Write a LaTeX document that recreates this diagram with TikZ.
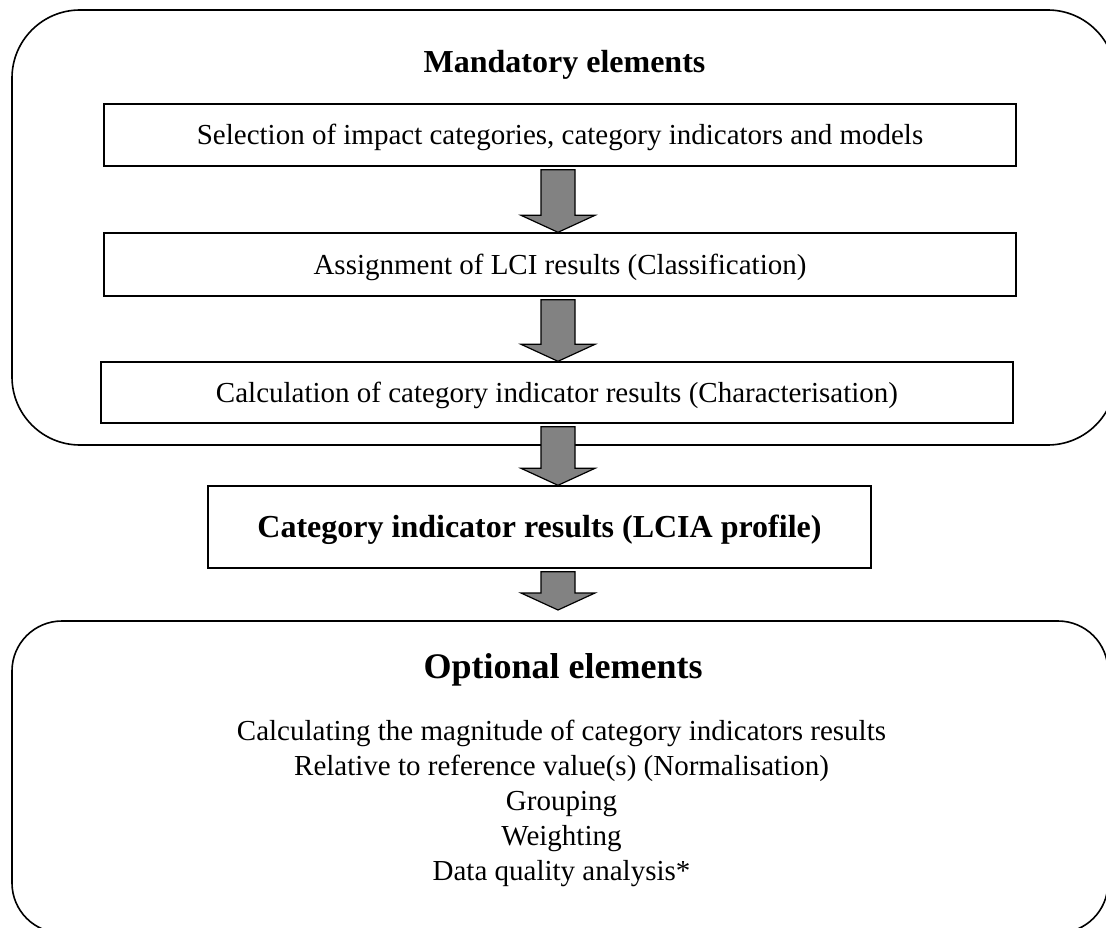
\documentclass[tikz,border=0pt]{standalone}
\usepackage{fontspec}
\setmainfont{Liberation Serif}
\usetikzlibrary{calc}
\definecolor{arrowgray}{RGB}{130,130,130}
\begin{document}
\begin{tikzpicture}[x=1pt,y=-1pt,
  framebox/.style={draw, line width=1.6pt, inner sep=0pt, rounded corners=#1},
  stepbox/.style={draw, line width=1.4pt, inner sep=0pt, align=center,
    font=\fontsize{29}{35}\selectfont, text height=19pt, text depth=0pt},
  headline/.style={anchor=base, font=\bfseries\fontsize{#1}{#1}\selectfont},
  bodyline/.style={anchor=base, font=\fontsize{29}{35}\selectfont},
  fatarrow/.style={draw=black, line width=1.2pt, fill=arrowgray},
]
% page area
\useasboundingbox (0,0) rectangle (1106,928);
\clip (0,0) rectangle (1106,928);

% outer frames
\node[framebox=68pt, minimum width=1103.7pt, minimum height=435pt] (mand) at (563.85,227.5) {};
\node[framebox=50pt, minimum width=1096pt, minimum height=312pt] (opt) at (560,777) {};

% mandatory part
\node[headline=32] (mtitle) at (564.5,73) {Mandatory elements};
\node[stepbox, minimum width=912pt, minimum height=62pt] (sel) at (560,135)
  {Selection of impact categories, category indicators and models};
\node[stepbox, minimum width=912pt, minimum height=63pt] (cls) at (560,264.5)
  {Assignment of LCI results (Classification)};
\node[stepbox, minimum width=912pt, minimum height=61pt] (chr) at (557,392.5)
  {Calculation of category indicator results (Characterisation)};

% profile
\node[stepbox, minimum width=663pt, minimum height=82pt, text height=21pt,
  font=\bfseries\fontsize{32}{38}\selectfont] (prof) at (539.5,527)
  {Category indicator results (LCIA profile)};

% optional part
\node[headline=36] (otitle) at (563,678) {Optional elements};
\node[bodyline] (o1) at (561.5,740) {Calculating the magnitude of category indicators results};
\node[bodyline] (o2) at (561.5,775) {Relative to reference value(s) (Normalisation)};
\node[bodyline] (o3) at (561.5,810) {Grouping};
\node[bodyline] (o4) at (561.5,845) {Weighting};
\node[bodyline] (o5) at (561.5,880) {Data quality analysis*};

\coordinate (optTip) at (558,610);

% block arrows between the stages
\newcommand\blockarrow[2]{%
  \draw[fatarrow] let \p1=(#1), \p2=(#2) in
    (541pt,\y1-3pt) -- (575pt,\y1-3pt) -- (575pt,\y2+17pt) -- (595pt,\y2+17pt)
    -- (558pt,\y2) -- (521pt,\y2+17pt) -- (541pt,\y2+17pt) -- cycle;}
\blockarrow{sel.south}{cls.north}
\blockarrow{cls.south}{chr.north}
\blockarrow{chr.south}{prof.north}
\blockarrow{prof.south}{optTip}
\end{tikzpicture}
\end{document}
